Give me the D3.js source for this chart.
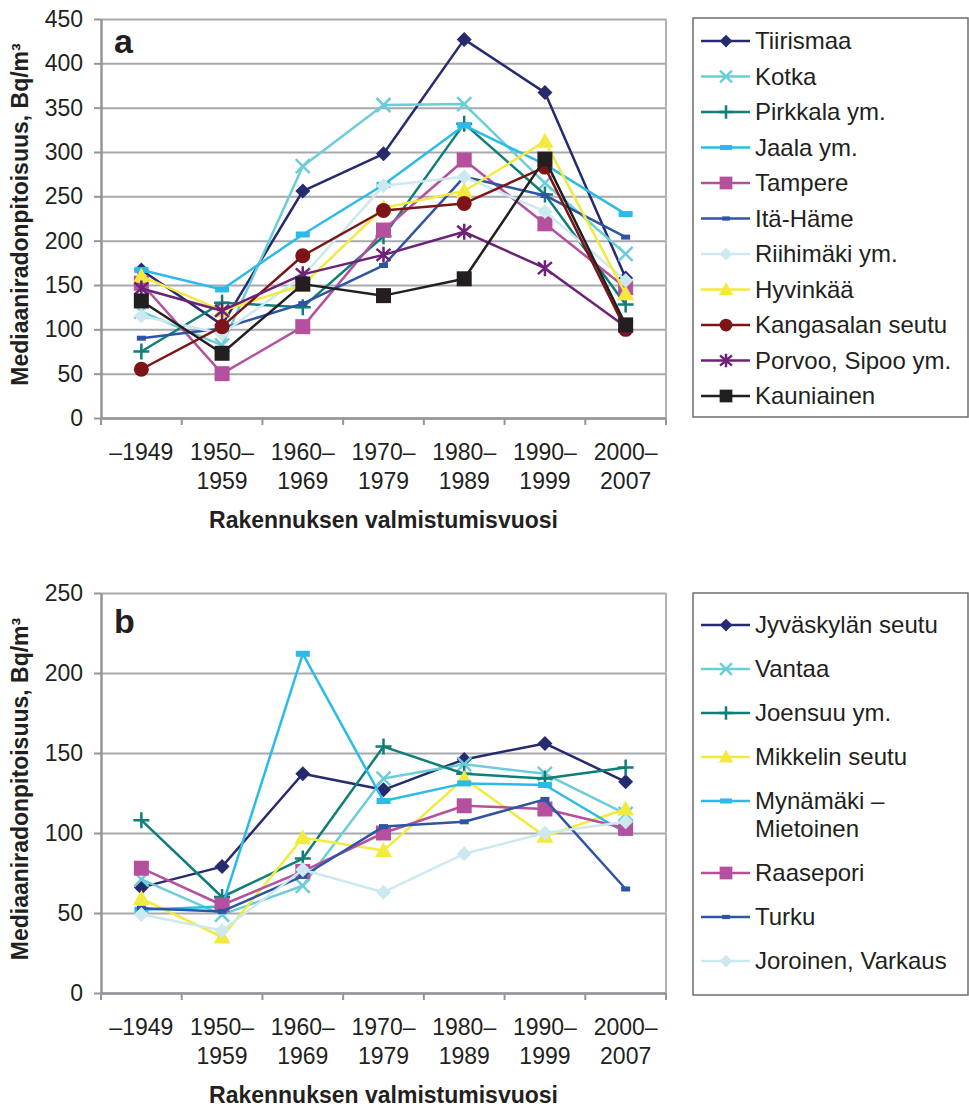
<!DOCTYPE html>
<html>
<head>
<meta charset="utf-8">
<script src="https://cdn.jsdelivr.net/npm/d3@7"></script>
<style>
  body { margin: 0; background: #fff; }
  svg { display: block; font-family: "Liberation Sans", Arial, sans-serif; }
</style>
</head>
<body>
<script>
// Categories (building completion years) and their two-line tick labels
var categories = ["-1949", "1950-1959", "1960-1969", "1970-1979", "1980-1989", "1990-1999", "2000-2007"];
var tickLines = [["–1949"], ["1950–", "1959"], ["1960–", "1969"], ["1970–", "1979"],
                 ["1980–", "1989"], ["1990–", "1999"], ["2000–", "2007"]];

var ticksA = [0, 50, 100, 150, 200, 250, 300, 350, 400, 450];
var ticksB = [0, 50, 100, 150, 200, 250];

// Panel a values (Bq/m3)
var tiirismaa  = [167, 105, 256, 298, 427, 367, 158];
var kotka      = [120,  82, 284, 353, 354, 265, 185];
var pirkkala   = [ 75, 130, 125, 205, 332, 252, 128];
var jaala      = [167, 145, 207, 263, 330, 286, 230];
var tampere    = [152,  50, 103, 212, 291, 219, 147];
var itaHame    = [ 90, 101, 129, 172, 272, 251, 204];
var riihimaki  = [115,  95, 160, 262, 272, 233, 155];
var hyvinkaa   = [160, 121, 150, 237, 256, 312, 140];
var kangasala  = [ 55, 103, 183, 234, 242, 283, 100];
var porvoo     = [146, 121, 162, 184, 210, 169, 103];
var kauniainen = [132,  73, 151, 138, 157, 292, 105];

// Panel b values (Bq/m3)
var jyvaskyla  = [ 66,  79, 137, 127, 146, 156, 132];
var vantaa     = [ 71,  49,  67, 134, 143, 137, 112];
var joensuu    = [108,  60,  84, 154, 137, 134, 141];
var mikkeli    = [ 59,  35,  97,  89, 134,  98, 115];
var mynamaki   = [ 52,  54, 212, 120, 131, 130, 100];
var raasepori  = [ 78,  55,  76, 100, 117, 115, 103];
var turku      = [ 53,  51,  73, 104, 107, 121,  65];
var joroinen   = [ 49,  39,  77,  63,  87, 100, 107];

var colors = {
  navy: "#262a6e", lightTeal: "#6ccdd8", teal: "#0f7e78", sky: "#2bbbe9",
  magenta: "#b5509e", blue: "#2e54a4", pale: "#cce9f0", yellow: "#f2ea3e",
  darkRed: "#7d1518", purple: "#6d2277", black: "#231f20"
};

var seriesA = [
  { name: ["Tiirismaa"], values: tiirismaa, color: colors.navy, marker: "diamond" },
  { name: ["Kotka"], values: kotka, color: colors.lightTeal, marker: "x" },
  { name: ["Pirkkala ym."], values: pirkkala, color: colors.teal, marker: "plus" },
  { name: ["Jaala ym."], values: jaala, color: colors.sky, marker: "dash" },
  { name: ["Tampere"], values: tampere, color: colors.magenta, marker: "square" },
  { name: ["Itä-Häme"], values: itaHame, color: colors.blue, marker: "smalldash" },
  { name: ["Riihimäki ym."], values: riihimaki, color: colors.pale, marker: "diamond" },
  { name: ["Hyvinkää"], values: hyvinkaa, color: colors.yellow, marker: "triangle" },
  { name: ["Kangasalan seutu"], values: kangasala, color: colors.darkRed, marker: "circle" },
  { name: ["Porvoo, Sipoo ym."], values: porvoo, color: colors.purple, marker: "asterisk" },
  { name: ["Kauniainen"], values: kauniainen, color: colors.black, marker: "square" }
];

var seriesB = [
  { name: ["Jyväskylän seutu"], values: jyvaskyla, color: colors.navy, marker: "diamond" },
  { name: ["Vantaa"], values: vantaa, color: colors.lightTeal, marker: "x" },
  { name: ["Joensuu ym."], values: joensuu, color: colors.teal, marker: "plus" },
  { name: ["Mikkelin seutu"], values: mikkeli, color: colors.yellow, marker: "triangle" },
  { name: ["Mynämäki –", "Mietoinen"], values: mynamaki, color: colors.sky, marker: "dash" },
  { name: ["Raasepori"], values: raasepori, color: colors.magenta, marker: "square" },
  { name: ["Turku"], values: turku, color: colors.blue, marker: "smalldash" },
  { name: ["Joroinen, Varkaus"], values: joroinen, color: colors.pale, marker: "diamond" }
];

var svg = d3.select("body").append("svg")
    .attr("width", 969)
    .attr("height", 1109);

var axisGray = "#939598";
var textColor = "#231f20";

// draw one marker shape into a group at the origin
function drawMarker(g, type, color, k) {
  k = k || 1;
  if (type === "diamond") {
    g.append("path").attr("d", `M0,${-7.5*k}L${7.5*k},0L0,${7.5*k}L${-7.5*k},0Z`).attr("fill", color);
  } else if (type === "square") {
    g.append("rect").attr("x", -7.5*k).attr("y", -7.5*k).attr("width", 15*k).attr("height", 15*k).attr("fill", color);
  } else if (type === "triangle") {
    g.append("path").attr("d", `M0,${-8.5*k}L${8.5*k},${6.5*k}L${-8.5*k},${6.5*k}Z`).attr("fill", color);
  } else if (type === "circle") {
    g.append("circle").attr("r", 7.5*k).attr("fill", color);
  } else if (type === "dash") {
    g.append("rect").attr("x", -7*k).attr("y", -3*k).attr("width", 14*k).attr("height", 6*k).attr("fill", color);
  } else if (type === "smalldash") {
    g.append("rect").attr("x", -4.5*k).attr("y", -2.5*k).attr("width", 9*k).attr("height", 5*k).attr("fill", color);
  } else if (type === "x") {
    g.append("path").attr("d", `M${-7*k},${-7*k}L${7*k},${7*k}M${-7*k},${7*k}L${7*k},${-7*k}`)
      .attr("stroke", color).attr("stroke-width", 2.5).attr("fill", "none");
  } else if (type === "plus") {
    g.append("path").attr("d", `M${-8*k},0H${8*k}M0,${-8*k}V${8*k}`)
      .attr("stroke", color).attr("stroke-width", 2.5).attr("fill", "none");
  } else if (type === "asterisk") {
    g.append("path").attr("d", `M0,${-8*k}V${8*k}M${-7*k},${-6*k}L${7*k},${6*k}M${7*k},${-6*k}L${-7*k},${6*k}`)
      .attr("stroke", color).attr("stroke-width", 2.5).attr("fill", "none");
  }
}

function drawPanel(p) {
  var x = d3.scaleBand().domain(categories).range([p.left, p.right]);
  var y = d3.scaleLinear().domain([0, p.max]).range([p.bottom, p.top]);
  var g = svg.append("g");

  // horizontal gridlines
  g.append("g")
      .attr("transform", `translate(${p.left},0)`)
      .call(d3.axisLeft(y).tickValues(p.ticks).tickSize(-(p.right - p.left)).tickFormat(""))
      .call(s => {
        s.select(".domain").remove();
        s.selectAll("line").attr("stroke", "#a7a9ac").attr("stroke-width", 2);
      });

  // right border
  g.append("line")
      .attr("x1", p.right).attr("x2", p.right)
      .attr("y1", p.top).attr("y2", p.bottom)
      .attr("stroke", "#b1b3b6").attr("stroke-width", 2);

  // y axis
  g.append("g")
      .attr("transform", `translate(${p.left},0)`)
      .call(d3.axisLeft(y).tickValues(p.ticks).tickSize(7).tickSizeOuter(0).tickPadding(11))
      .call(s => {
        s.select(".domain").attr("stroke", axisGray).attr("stroke-width", 2.5);
        s.selectAll("line").attr("stroke", axisGray).attr("stroke-width", 2);
        s.selectAll("text").attr("font-size", 23).attr("fill", textColor)
          .attr("font-family", "Liberation Sans, Arial, sans-serif");
      });

  // x axis
  var xAxis = g.append("g")
      .attr("transform", `translate(0,${p.bottom})`)
      .call(d3.axisBottom(x).tickSize(0).tickSizeOuter(0).tickPadding(0))
      .call(s => s.select(".domain").attr("stroke", axisGray).attr("stroke-width", 2.5));

  xAxis.selectAll(".tick text").each(function (d, i) {
    var t = d3.select(this).text(null)
        .attr("font-size", 23).attr("fill", textColor).attr("dy", null).attr("y", 0)
        .attr("font-family", "Liberation Sans, Arial, sans-serif");
    tickLines[i].forEach(function (line, j) {
      t.append("tspan").attr("x", 0).attr("y", 42 + j * 29).text(line);
    });
  });

  // tick marks at band boundaries
  var bounds = categories.map(c => x(c)).concat([p.right]);
  xAxis.selectAll(".bound").data(bounds).enter().append("line")
      .attr("class", "bound")
      .attr("x1", d => d).attr("x2", d => d)
      .attr("y1", 0).attr("y2", 7)
      .attr("stroke", axisGray).attr("stroke-width", 2);

  // panel letter
  g.append("text").attr("x", p.left + 13).attr("y", p.top + p.letterDy)
      .attr("font-size", 34).attr("font-weight", "bold").attr("fill", textColor)
      .text(p.letter);

  // lines and markers
  var line = d3.line()
      .x((d, i) => x(categories[i]) + x.bandwidth() / 2)
      .y(d => y(d));

  p.series.forEach(function (s) {
    g.append("path")
        .datum(s.values)
        .attr("d", line)
        .attr("fill", "none")
        .attr("stroke", s.color)
        .attr("stroke-width", 2.5)
        .attr("stroke-linejoin", "round");
    s.values.forEach(function (v, i) {
      var m = g.append("g")
          .attr("transform", `translate(${x(categories[i]) + x.bandwidth() / 2},${y(v)})`);
      drawMarker(m, s.marker, s.color, 1);
    });
  });

  // axis titles
  g.append("text")
      .attr("transform", `translate(28,${(p.top + p.bottom) / 2 - 4}) rotate(-90)`)
      .attr("text-anchor", "middle")
      .attr("font-size", 23).attr("font-weight", "bold").attr("fill", textColor)
      .text("Mediaaniradonpitoisuus, Bq/m³");

  g.append("text")
      .attr("x", (p.left + p.right) / 2).attr("y", p.bottom + 110)
      .attr("text-anchor", "middle")
      .attr("font-size", 23).attr("font-weight", "bold").attr("fill", textColor)
      .text("Rakennuksen valmistumisvuosi");

  // legend
  var lg = g.append("g");
  lg.append("rect")
      .attr("x", p.legend.x).attr("y", p.legend.y)
      .attr("width", p.legend.w).attr("height", p.legend.h)
      .attr("fill", "none").attr("stroke", "#6d6e71").attr("stroke-width", 1.5);

  var rowY = p.legend.firstRow;
  p.series.forEach(function (s) {
    lg.append("line")
        .attr("x1", p.legend.x + 8).attr("x2", p.legend.x + 57)
        .attr("y1", rowY).attr("y2", rowY)
        .attr("stroke", s.color).attr("stroke-width", 2.5);
    var m = lg.append("g").attr("transform", `translate(${p.legend.x + 33},${rowY})`);
    drawMarker(m, s.marker, s.color, 0.85);
    var t = lg.append("text")
        .attr("font-size", 24).attr("fill", textColor);
    s.name.forEach(function (n, j) {
      t.append("tspan").attr("x", p.legend.x + 62).attr("y", rowY + 8 + j * 28).text(n);
    });
    rowY += p.legend.step + (s.name.length - 1) * 28;
  });
}

drawPanel({
  left: 101, right: 666, top: 19, bottom: 418, max: 450, ticks: ticksA,
  letter: "a", letterDy: 34, series: seriesA,
  legend: { x: 693, y: 18, w: 275, h: 399, firstRow: 41, step: 35.5 }
});

drawPanel({
  left: 101, right: 666, top: 593, bottom: 993, max: 250, ticks: ticksB,
  letter: "b", letterDy: 40, series: seriesB,
  legend: { x: 693, y: 593, w: 275, h: 402, firstRow: 625, step: 44 }
});
</script>
</body>
</html>
